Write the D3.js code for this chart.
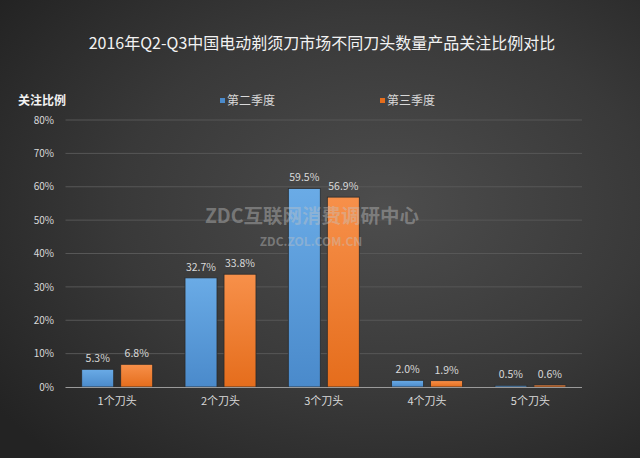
<!DOCTYPE html>
<html><head><meta charset="utf-8">
<script src="https://cdn.jsdelivr.net/npm/d3@7"></script>
<style>html,body{margin:0;padding:0;background:#2a2a2a;}svg{display:block;}</style>
</head><body>
<script>
const categories = ["1个刀头","2个刀头","3个刀头","4个刀头","5个刀头"];
const seriesNames = ["第二季度","第三季度"];
const q2Values = [0.053, 0.327, 0.595, 0.020, 0.005];
const q3Values = [0.068, 0.338, 0.569, 0.019, 0.006];
const yTicks = [0,0.1,0.2,0.3,0.4,0.5,0.6,0.7,0.8];
const seriesValues = [q2Values, q3Values];

const W=640,H=458;
const font='"Noto Sans CJK SC","Noto Sans",sans-serif';
const svg=d3.select("body").append("svg").attr("width",W).attr("height",H);
const defs=svg.append("defs");
const bg=defs.append("radialGradient").attr("id","bg").attr("cx","0.6").attr("cy","0.45").attr("r","0.75");
bg.append("stop").attr("offset","0").attr("stop-color","#4d4d4d");
bg.append("stop").attr("offset","0.55").attr("stop-color","#393939");
bg.append("stop").attr("offset","1").attr("stop-color","#232323");
svg.append("rect").attr("width",W).attr("height",H).attr("fill","url(#bg)");

const colors=[["#6aabe6","#4a8acb"],["#f7904a","#e56d1c"]];
colors.forEach((c,i)=>{
  const g=defs.append("linearGradient").attr("id","g"+i).attr("x1",0).attr("y1",0).attr("x2",0).attr("y2",1);
  g.append("stop").attr("offset",0).attr("stop-color",c[0]);
  g.append("stop").attr("offset",1).attr("stop-color",c[1]);
});

const left=65.5, right=582;
const x0=d3.scaleBand().domain(categories).range([left,right]).padding(0);
const bw=x0.bandwidth();
const x1=d3.scaleBand().domain(seriesNames).range([bw*0.157,bw*0.844]).paddingInner(0.18);
const y=d3.scaleLinear().domain([0,0.8]).range([387,120]);

// gridlines
svg.append("g").selectAll("line").data(yTicks.slice(1)).join("line")
  .attr("x1",left).attr("x2",right).attr("y1",d=>y(d)).attr("y2",d=>y(d))
  .attr("stroke","#575757").attr("stroke-width",1);

// y axis labels
const yAxis=d3.axisLeft(y).tickValues(yTicks).tickFormat(d3.format(".0%")).tickSize(0).tickPadding(0);
const ya=svg.append("g").attr("transform","translate(54,0)").call(yAxis);
ya.select(".domain").remove();
ya.selectAll("text").attr("fill","#d9d9d9").attr("font-size",10).attr("font-family",font);

// bars
const groups=svg.append("g").selectAll("g").data(categories).join("g")
  .attr("transform",d=>`translate(${x0(d)},0)`);
seriesNames.forEach((s,si)=>{
  groups.append("rect")
    .attr("x",x1(s)).attr("width",x1.bandwidth())
    .attr("y",(d,i)=>y(seriesValues[si][i]))
    .attr("height",(d,i)=>y(0)-y(seriesValues[si][i]))
    .attr("fill","url(#g"+si+")")
    .attr("stroke","#2b2b2b").attr("stroke-width",0.8);
  groups.append("text")
    .attr("x",x1(s)+x1.bandwidth()/2)
    .attr("y",(d,i)=>y(seriesValues[si][i])-7)
    .attr("text-anchor","middle").attr("fill","#d9d9d9")
    .attr("font-size",10.5).attr("font-family",font)
    .text((d,i)=>d3.format(".1%")(seriesValues[si][i]));
});

// baseline
svg.append("line").attr("x1",left).attr("x2",right).attr("y1",y(0)+0.5).attr("y2",y(0)+0.5)
  .attr("stroke","#9a9a9a").attr("stroke-width",1.2);

// x axis labels
const xAxis=d3.axisBottom(x0).tickSize(0).tickPadding(0);
const xa=svg.append("g").attr("transform",`translate(0,${y(0)+10})`).call(xAxis);
xa.select(".domain").remove();
xa.selectAll("text").attr("fill","#d9d9d9").attr("font-size",11).attr("font-family",font);

// watermark
svg.append("text").attr("x",312).attr("y",223).attr("text-anchor","middle")
  .attr("font-size",19.5).attr("font-weight","bold").attr("font-family",font)
  .attr("fill","#c4c4c4").attr("fill-opacity",0.42).text("ZDC互联网消费调研中心");
svg.append("text").attr("x",311).attr("y",246).attr("text-anchor","middle")
  .attr("font-size",12).attr("font-weight","bold").attr("font-family",font)
  .attr("fill","#c4c4c4").attr("fill-opacity",0.42).text("ZDC.ZOL.COM.CN");

// title
svg.append("text").attr("x",322).attr("y",49).attr("text-anchor","middle")
  .attr("font-size",16).attr("font-family",font).attr("fill","#f2f2f2")
  .text("2016年Q2-Q3中国电动剃须刀市场不同刀头数量产品关注比例对比");

// y axis title
svg.append("text").attr("x",18).attr("y",105).attr("font-size",12).attr("font-weight","bold")
  .attr("font-family",font).attr("fill","#f2f2f2").text("关注比例");

// legend
const legX=[220,380];
seriesNames.forEach((s,i)=>{
  svg.append("rect").attr("x",legX[i]).attr("y",98).attr("width",5).attr("height",5).attr("fill",colors[i][1]);
  svg.append("text").attr("x",legX[i]+7).attr("y",105).attr("font-size",12)
    .attr("font-family",font).attr("fill","#d9d9d9").text(s);
});
</script>
</body></html>
